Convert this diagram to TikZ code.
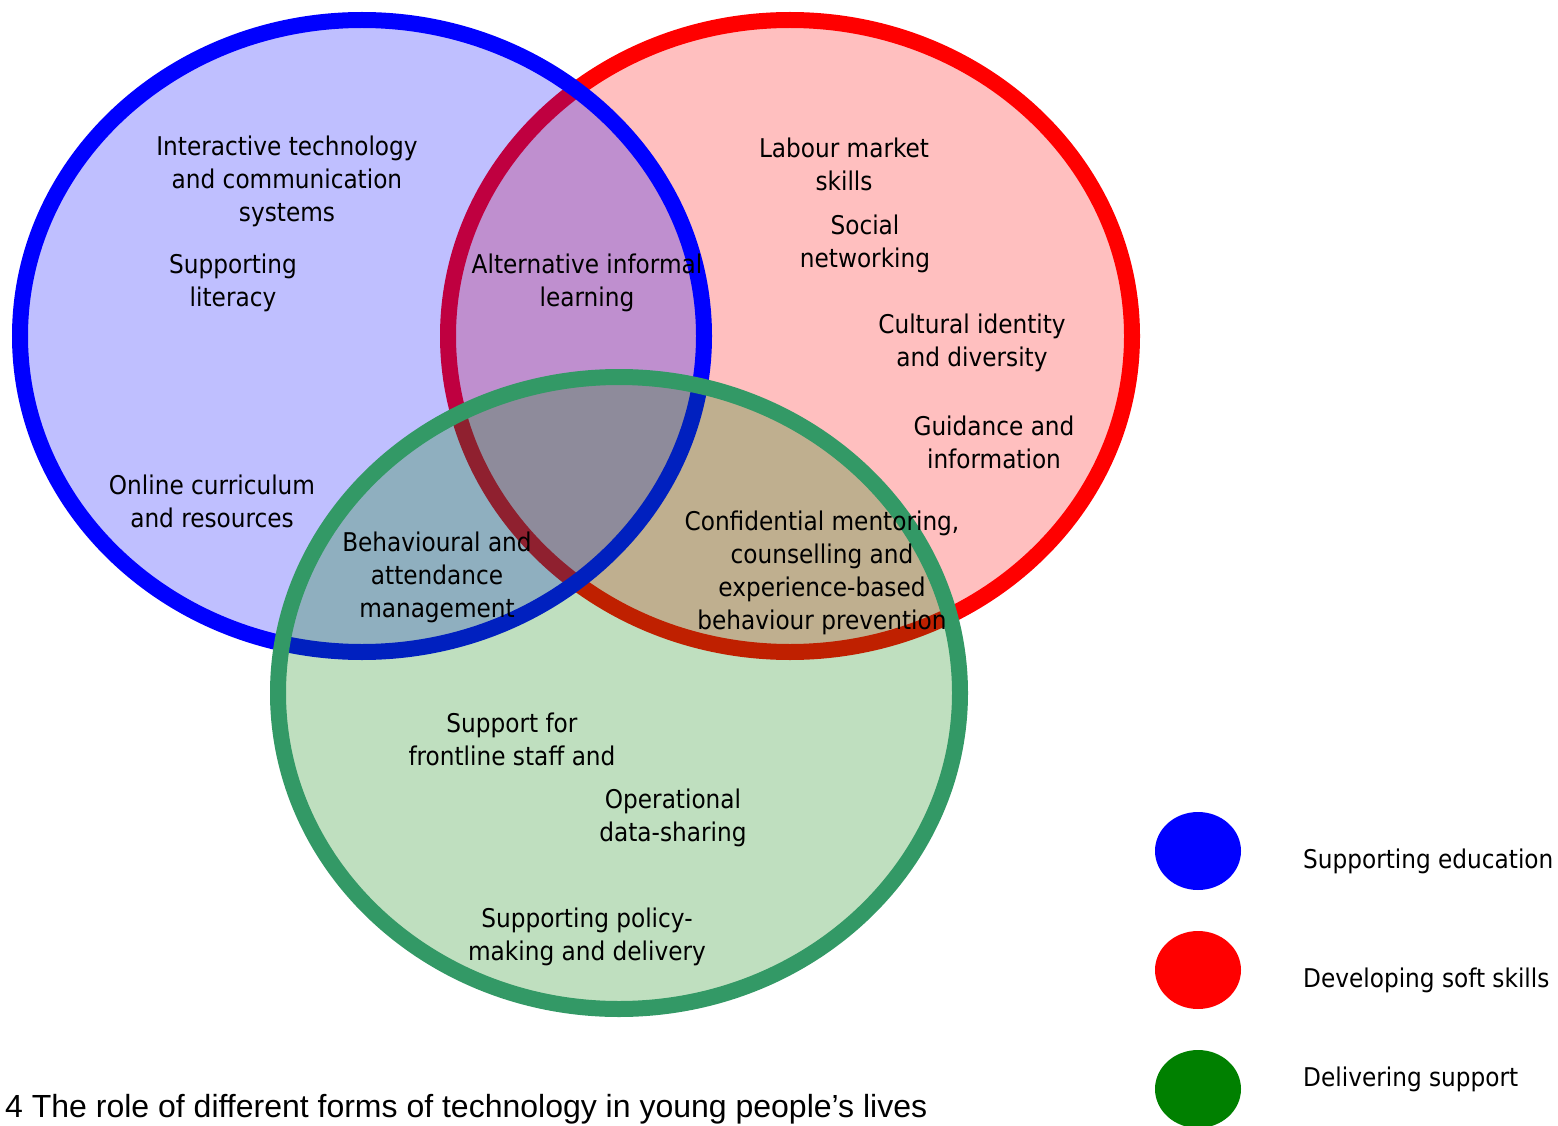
\documentclass[tikz,border=0pt]{standalone}
\usepackage{fontspec}
\setmainfont{DejaVu Sans Condensed}
\newfontfamily\captionfont{Liberation Sans}
\definecolor{verde}{HTML}{008000}
\definecolor{verdebordo}{HTML}{339966}
\begin{document}
\begin{tikzpicture}[x=1pt,y=-1pt,
    etichetta/.style={align=center,inner sep=0pt,font=\fontsize{25.8}{33}\selectfont},
    anello/.style={line width=16pt,fill opacity=0.25},
    legenda/.style={anchor=west,inner sep=0pt,font=\fontsize{25.8}{33}\selectfont}]
    \useasboundingbox (0,0) rectangle (1558,1126);

    % Disegna i tre insiemi
    \draw[anello,draw=red,fill=red] (790,336) ellipse [x radius=342,y radius=316];
    \draw[anello,draw=blue,fill=blue] (362,336) ellipse [x radius=342,y radius=316];
    \draw[anello,draw=verdebordo,fill=verde] (619,693) ellipse [x radius=341,y radius=316];

    % Etichette dell'insieme blu
    \node[etichetta] (interattiva) at (287,181) {Interactive technology\\and communication\\systems};
    \node[etichetta] (alfabetizzazione) at (233,283) {Supporting\\literacy};
    \node[etichetta] (curricolo) at (212,501) {Online curriculum\\and resources};

    % Etichette dell'insieme rosso
    \node[etichetta] (lavoro) at (844,164) {Labour market\\skills};
    \node[etichetta] (social) at (865,244) {Social\\networking};
    \node[etichetta] (cultura) at (972,343) {Cultural identity\\and diversity};
    \node[etichetta] (guida) at (994,442) {Guidance and\\information};

    % Etichette dell'insieme verde
    \node[etichetta] (personale) at (512,739) {Support for\\frontline staff and};
    \node[etichetta] (dati) at (673,818) {Operational\\data-sharing};
    \node[etichetta] (politiche) at (587,937) {Supporting policy-\\making and delivery};

    % Etichette delle intersezioni
    \node[etichetta] (informale) at (587,283) {Alternative informal\\learning};
    \node[etichetta] (comportamento) at (437,577) {Behavioural and\\attendance\\management};
    \node[etichetta] (tutoraggio) at (822,573) {Confidential mentoring,\\counselling and\\experience-based\\behaviour prevention};

    % Legenda
    \fill[blue] (1198,851) ellipse [x radius=43,y radius=39];
    \fill[red] (1198,970) ellipse [x radius=43,y radius=39];
    \fill[verde] (1198,1089) ellipse [x radius=43,y radius=39];
    \node[legenda] (leg blu) at (1303,861) {Supporting education};
    \node[legenda] (leg rosso) at (1303,980) {Developing soft skills};
    \node[legenda] (leg verde) at (1303,1079) {Delivering support};

    % Didascalia
    \node[anchor=west,inner sep=0pt,font=\captionfont\fontsize{32}{38}\selectfont] (didascalia) at (5,1109) {4 The role of different forms of technology in young people’s lives};
\end{tikzpicture}
\end{document}
